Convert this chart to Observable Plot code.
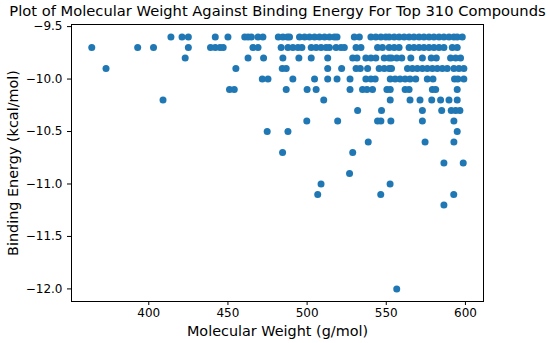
<!DOCTYPE html>
<html>
<head>
<meta charset="utf-8">
<script src="https://cdn.jsdelivr.net/npm/d3@7"></script>
<script src="https://cdn.jsdelivr.net/npm/@observablehq/plot@0.6"></script>
<style>
  html, body { margin: 0; padding: 0; background: white; }
  #chart svg { font-family: "DejaVu Sans", sans-serif; }
  #chart svg g[aria-label="x-axis tick label"],
  #chart svg g[aria-label="y-axis tick label"] { font-size: 12px; }
</style>
</head>
<body>
<div id="chart"></div>
<script>
// Molecular weight values (g/mol) for each binding-energy level (kcal/mol)
const mw_m9_6 = [414, 421, 425, 442, 450, 460.6, 462.7, 464.8, 469, 472.1, 481.8, 484.7, 487.5, 488.9, 495.2, 498.4, 501.5, 504.7, 507.8, 511, 514.1, 517.2, 518.9, 529.8, 533, 540.3, 543.4, 546.6, 549.7, 551.8, 555, 558.1, 561.3, 564.4, 567.5, 570.7, 573.8, 577, 580.1, 583.3, 586.4, 589.6, 592.7, 594.8, 598];
const mw_m9_7 = [364, 393, 403, 425, 439, 442, 445, 447, 465.8, 469, 483.6, 487.9, 491, 494.2, 496.7, 502.6, 505.7, 508.8, 512, 514.1, 518.3, 521.4, 523.5, 530.9, 534, 544.5, 547.6, 551.8, 555, 558.1, 564.4, 567.5, 570.7, 573.8, 577, 580.1, 583.3, 586.4, 591.7, 594.8];
const mw_m9_8 = [423, 462.7, 472.5, 484.7, 494.8, 502.6, 513, 528.8, 531.5, 537.1, 540.3, 543.4, 548.7, 551.8, 553.3, 556.6, 559.8, 565.5, 572.8, 578.4, 581.6, 590.6, 593.8, 596.9];
const mw_m9_9 = [373, 455, 484.3, 486.8, 513, 521.8, 530.9, 533.6, 538.2, 545.5, 548.7, 551.8, 553.3, 563.4, 566.5, 569.6, 572.8, 575.9, 579.1, 582.2, 585.4, 588.5, 592.7, 595.9, 599];
const mw_m10_0 = [471.7, 475.3, 491, 504.7, 513, 518.9, 527.1, 537.1, 540.3, 543, 552.5, 555.6, 558.7, 561.9, 565, 568.6, 575.9, 579.5, 593.1, 595.2, 599];
const mw_m10_1 = [451, 454, 486.8, 500, 505.7, 527.1, 535, 537.8, 541.3, 550.4, 552.5, 561.9, 564.4, 579.1, 581.2, 594.8];
const mw_m10_2 = [409, 510.5, 552.5, 565, 571.3, 578.7, 584.3, 589.6, 594.8];
const mw_m10_3 = [531.9, 547, 572.8, 585, 591, 593.8, 596.5];
const mw_m10_4 = [499.8, 519.3, 544.5, 546.6, 552.9, 572.8, 592.7];
const mw_m10_5 = [474.8, 487.9, 594.8];
const mw_m10_6 = [538.6, 574.5, 592.7];
const mw_m10_7 = [484.5, 528.8];
const mw_m10_8 = [586.4, 598.6];
const mw_m10_9 = [526.8];
const mw_m11_0 = [508.8, 552.4];
const mw_m11_1 = [506.7, 546.5, 592.6];
const mw_m11_2 = [586.4];
const mw_m12_0 = [556.6];

const energyLevels = [-9.6, -9.7, -9.8, -9.9, -10.0, -10.1, -10.2, -10.3, -10.4, -10.5, -10.6, -10.7, -10.8, -10.9, -11.0, -11.1, -11.2, -12.0];
const weightsByLevel = [mw_m9_6, mw_m9_7, mw_m9_8, mw_m9_9, mw_m10_0, mw_m10_1, mw_m10_2, mw_m10_3, mw_m10_4, mw_m10_5, mw_m10_6, mw_m10_7, mw_m10_8, mw_m10_9, mw_m11_0, mw_m11_1, mw_m11_2, mw_m12_0];

const xTicks = [400, 450, 500, 550, 600];
const yTicks = [-9.5, -10.0, -10.5, -11.0, -11.5, -12.0];

const titleText = "Plot of Molecular Weight Against Binding Energy For Top 310 Compounds";
const xLabel = "Molecular Weight (g/mol)";
const yLabel = "Binding Energy (kcal/mol)";

const data = [];
energyLevels.forEach((e, i) => weightsByLevel[i].forEach(w => data.push({mw: w, be: e})));

const fmtY = d => (d < 0 ? "\u2212" : "") + Math.abs(d).toFixed(1);

const chart = Plot.plot({
  width: 550,
  height: 343,
  marginLeft: 71,
  marginRight: 67,
  marginTop: 24,
  marginBottom: 42,
  style: {fontFamily: "DejaVu Sans", fontSize: "12px", background: "white", color: "black"},
  x: {domain: [351.2, 611.4]},
  y: {domain: [-12.12, -9.48]},
  marks: [
    Plot.dot(data, {x: "mw", y: "be", r: 3.5, fill: "#1f77b4", stroke: null}),
    Plot.frame({stroke: "black", strokeWidth: 1}),
    Plot.axisX({ticks: xTicks, tickSize: 4, tickPadding: 3, label: null, fontSize: 12, stroke: "black"}),
    Plot.axisY({ticks: yTicks, tickSize: 4, tickPadding: 5, label: null, fontSize: 12, tickFormat: fmtY, stroke: "black"}),
    Plot.text([xLabel], {text: d => d, frameAnchor: "bottom", dy: 30, lineAnchor: "middle", textAnchor: "middle", fontSize: 14.4, fill: "black"}),
    Plot.text([yLabel], {text: d => d, frameAnchor: "left", dx: -58, rotate: -90, lineAnchor: "middle", textAnchor: "middle", fontSize: 14.4, fill: "black"}),
    Plot.text([titleText], {text: d => d, frameAnchor: "top", dy: -13, lineAnchor: "middle", textAnchor: "middle", fontSize: 14.7, fill: "black"})
  ]
});
document.getElementById("chart").appendChild(chart);
</script>
</body>
</html>
